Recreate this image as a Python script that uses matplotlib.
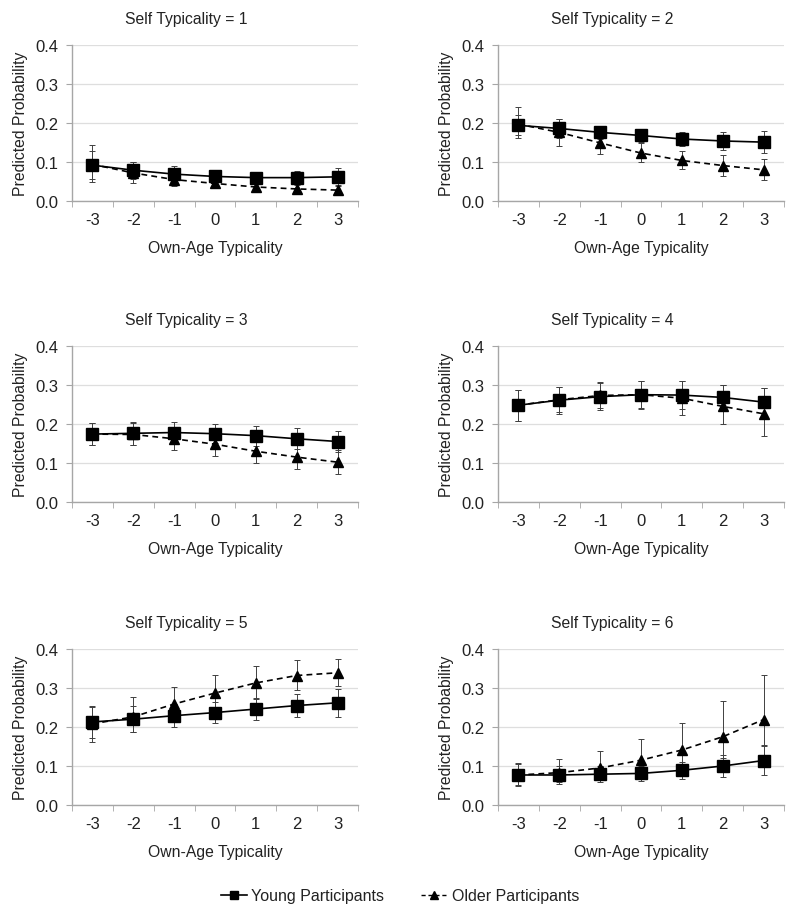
import numpy as np
import matplotlib
matplotlib.use("Agg")
import matplotlib.pyplot as plt
from matplotlib.lines import Line2D

plt.rcParams["font.family"] = ["Liberation Sans", "DejaVu Sans"]

typicality = [-3, -2, -1, 0, 1, 2, 3]
panel_titles = ["Self Typicality = 1", "Self Typicality = 2", "Self Typicality = 3",
                "Self Typicality = 4", "Self Typicality = 5", "Self Typicality = 6"]

# predicted probabilities, one row per panel
young = [
    [0.092, 0.079, 0.069, 0.063, 0.060, 0.060, 0.062],
    [0.194, 0.186, 0.176, 0.168, 0.159, 0.154, 0.151],
    [0.174, 0.176, 0.178, 0.175, 0.170, 0.162, 0.155],
    [0.248, 0.261, 0.270, 0.275, 0.274, 0.268, 0.256],
    [0.213, 0.220, 0.229, 0.237, 0.246, 0.255, 0.262],
    [0.077, 0.077, 0.079, 0.081, 0.089, 0.100, 0.114],
]
young_err = [
    [0.035, 0.022, 0.020, 0.015, 0.015, 0.017, 0.022],
    [0.026, 0.024, 0.017, 0.016, 0.019, 0.024, 0.028],
    [0.029, 0.029, 0.026, 0.025, 0.026, 0.027, 0.027],
    [0.040, 0.035, 0.035, 0.036, 0.035, 0.033, 0.036],
    [0.040, 0.033, 0.030, 0.028, 0.028, 0.030, 0.036],
    [0.029, 0.024, 0.020, 0.019, 0.022, 0.028, 0.037],
]
older = [
    [0.094, 0.072, 0.055, 0.045, 0.036, 0.031, 0.028],
    [0.197, 0.176, 0.149, 0.123, 0.104, 0.091, 0.080],
    [0.174, 0.173, 0.162, 0.148, 0.130, 0.115, 0.102],
    [0.248, 0.262, 0.273, 0.275, 0.266, 0.245, 0.226],
    [0.208, 0.226, 0.259, 0.287, 0.313, 0.332, 0.339],
    [0.077, 0.083, 0.095, 0.115, 0.141, 0.175, 0.219],
]
older_lo = [
    [0.045, 0.025, 0.016, 0.010, 0.008, 0.008, 0.008],
    [0.035, 0.034, 0.029, 0.024, 0.023, 0.026, 0.025],
    [0.028, 0.027, 0.029, 0.030, 0.029, 0.031, 0.031],
    [0.040, 0.032, 0.032, 0.035, 0.043, 0.045, 0.056],
    [0.046, 0.040, 0.040, 0.040, 0.040, 0.038, 0.033],
    [0.025, 0.024, 0.030, 0.037, 0.045, 0.055, 0.065],
]
older_hi = [
    [0.050, 0.028, 0.020, 0.012, 0.010, 0.010, 0.010],
    [0.045, 0.035, 0.030, 0.026, 0.025, 0.028, 0.029],
    [0.029, 0.030, 0.031, 0.031, 0.030, 0.031, 0.030],
    [0.040, 0.034, 0.034, 0.036, 0.043, 0.055, 0.066],
    [0.043, 0.050, 0.043, 0.047, 0.043, 0.040, 0.035],
    [0.030, 0.034, 0.043, 0.053, 0.068, 0.091, 0.115],
]

fig = plt.figure(figsize=(8, 9.2), dpi=100)

lefts = [0.09, 0.6225]
bottoms = [0.7804, 0.4533, 0.1239]
w, h = 0.3575, 0.1696

grey = "#a6a6a6"
x = np.arange(len(typicality))

for i in range(6):
    row, col = divmod(i, 2)
    ax = fig.add_axes([lefts[col], bottoms[row], w, h])

    ax.errorbar(x, older[i], yerr=[older_lo[i], older_hi[i]], fmt="none",
                ecolor="#404040", elinewidth=0.7, capsize=2.5, capthick=0.7, zorder=2)
    ax.errorbar(x, young[i], yerr=young_err[i], fmt="none",
                ecolor="#404040", elinewidth=0.7, capsize=2.5, capthick=0.7, zorder=2)
    ax.plot(x, older[i], color="black", linestyle=(0, (3.5, 2.5)), linewidth=1.2,
            marker="^", markersize=7, zorder=3)
    ax.plot(x, young[i], color="black", linestyle="-", linewidth=1.2,
            marker="s", markersize=8.5, zorder=4)

    ax.set_xlim(-0.5, 6.5)
    ax.set_ylim(0, 0.4)
    ax.set_yticks([0.0, 0.1, 0.2, 0.3, 0.4])
    ax.set_yticklabels(["0.0", "0.1", "0.2", "0.3", "0.4"])
    ax.set_xticks(x)
    ax.set_xticklabels([str(t) for t in typicality])
    ax.set_xticks(np.arange(-0.5, 7, 1), minor=True)

    ax.yaxis.grid(True, color="#dedede", linewidth=0.9)
    ax.set_axisbelow(True)
    for s in ["top", "right"]:
        ax.spines[s].set_visible(False)
    for s in ["left", "bottom"]:
        ax.spines[s].set_color(grey)
        ax.spines[s].set_linewidth(1.0)

    ax.tick_params(axis="x", which="major", length=0, pad=8, labelsize=12, labelcolor="#222222")
    ax.tick_params(axis="x", which="minor", length=4, color=grey, direction="out")
    ax.tick_params(axis="y", length=4, color=grey, pad=6, labelsize=12, labelcolor="#222222")

    ax.set_xlabel("Own-Age Typicality", fontsize=11.3, labelpad=9, color="#222222")
    ax.set_ylabel("Predicted Probability", fontsize=11.3, labelpad=5, color="#222222")
    ax.set_title(panel_titles[i], fontsize=11.3, x=0.40, pad=16, color="#222222")

handles = [
    Line2D([], [], color="black", linestyle="-", linewidth=1.2, marker="s", markersize=6),
    Line2D([], [], color="black", linestyle=(0, (3, 2)), linewidth=1.0, marker="^", markersize=5.5),
]
fig.legend(handles, ["Young Participants", "Older Participants"], loc="center",
           bbox_to_anchor=(0.5, 0.025), ncol=2, frameon=False, fontsize=11.5,
           handlelength=1.6, handletextpad=0.3, columnspacing=2.3,
           labelcolor="#222222")

fig.savefig("out.png", dpi=100, facecolor="white")
